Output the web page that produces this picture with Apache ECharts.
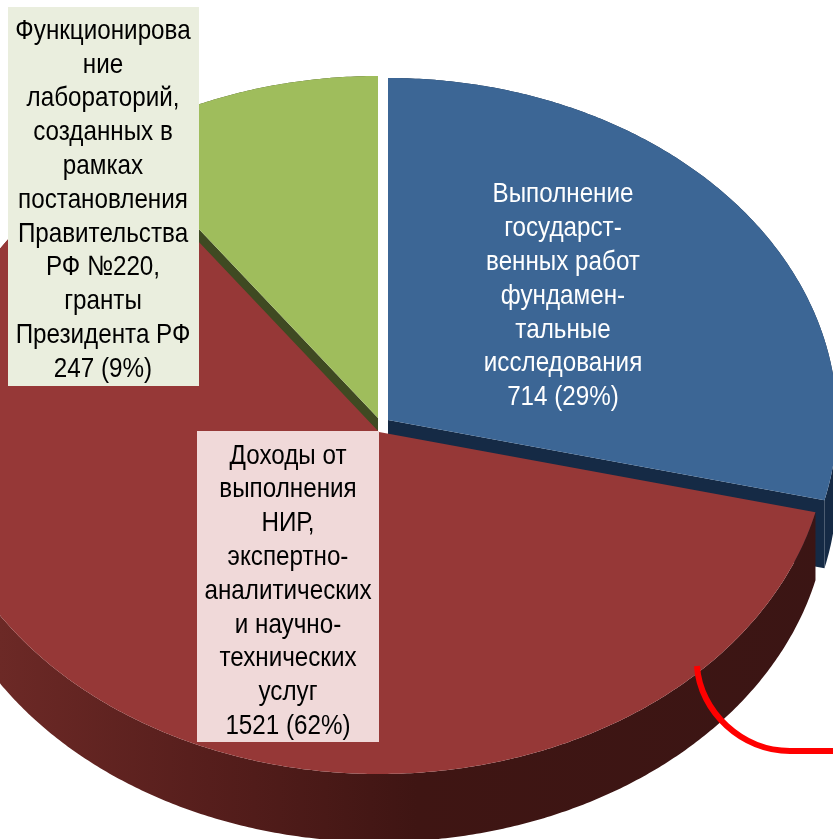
<!DOCTYPE html>
<html><head><meta charset="utf-8">
<style>html,body{margin:0;padding:0;background:#fff}#c{width:833px;height:839px}</style>
<script src="https://cdn.jsdelivr.net/npm/echarts@6/dist/echarts.min.js"></script>
</head><body><div id="c"></div>
<script>
const categories = ['Выполнение государственных работ', 'Доходы от выполнения НИР', 'Функционирование лабораторий'];
const values = [714, 1521, 247];
const labels = [
  'Выполнение\nгосударст-\nвенных работ\nфундамен-\nтальные\nисследования\n714 (29%)',
  'Доходы от\nвыполнения\nНИР,\nэкспертно-\nаналитических\nи научно-\nтехнических\nуслуг\n1521 (62%)',
  'Функционирова\nние\nлабораторий,\nсозданных в\nрамках\nпостановления\nПравительства\nРФ №220,\nгранты\nПрезидента РФ\n247 (9%)'
];
const RX = 449, RY = 342, DEPTH = 68;
const centers = [[388, 420], [379, 432], [378, 418]];
const drawOrder = [1, 3, 2];
const topColors = ['#3c6695', '#963837', '#9fbd5c'];
const wallColors = ['#152a45', null, '#3f4a22'];
const labelBoxes = [
  null,
  {x: 197, y: 431, w: 182, h: 311, bg: '#f0d9d9', cx: 288, cy: 591, color: '#000'},
  {x: 8, y: 7, w: 191, h: 379, bg: '#eaeede', cx: 103, cy: 200, color: '#000'}
];
const blueText = {cx: 563, cy: 296, color: '#fff'};
const total = values.reduce((a, b) => a + b, 0);
const pt = (c, deg, dy) => {
  const r = deg * Math.PI / 180;
  return [c[0] + RX * Math.sin(r), c[1] - RY * Math.cos(r) + (dy || 0)];
};
const arc = (c, a, b, dy) => {
  const out = [];
  const n = Math.ceil(Math.abs(b - a) * 2);
  for (let i = 0; i <= n; i++) out.push(pt(c, a + (b - a) * i / n, dy));
  return out;
};
const redWall = new echarts.graphic.LinearGradient(0, 0, 833, 0, [
  {offset: 0, color: '#6c2926'},
  {offset: 0.25, color: '#561e1c'},
  {offset: 0.5, color: '#3f1513'},
  {offset: 1, color: '#3b1514'}
], true);

function renderSlice(params, api) {
  const i = params.dataIndex;
  let acc = 0;
  for (let k = 0; k < i; k++) acc += values[k];
  const a = acc / total * 360, b = (acc + api.value(0)) / total * 360;
  const c = centers[i], z = drawOrder[i] * 10;
  const fill = wallColors[i] || redWall;
  const top = arc(c, a, b, 0), low = arc(c, a, b, DEPTH);
  const kids = [];
  const poly = (points, f, zz) => kids.push({type: 'polygon', z2: zz, shape: {points}, style: {fill: f}, silent: true});
  poly(top.concat(low.slice().reverse()), fill, z);
  const cLow = [c[0], c[1] + DEPTH];
  if (i === 0) poly([c, pt(c, b), pt(c, b, DEPTH), cLow], fill, z + 1);
  if (i === 2) poly([c, pt(c, a), pt(c, a, DEPTH), cLow], fill, z + 1);
  poly([c].concat(top), topColors[i], z + 2);
  return {type: 'group', children: kids};
}
function renderLabel(params) {
  const i = params.dataIndex, box = labelBoxes[i], kids = [];
  const t = box || blueText;
  if (box) kids.push({type: 'rect', z2: 100, shape: {x: box.x, y: box.y, width: box.w, height: box.h}, style: {fill: box.bg}, silent: true});
  kids.push({type: 'text', z2: 101, silent: true, x: t.cx, y: t.cy, scaleX: 0.865, style: {
    text: labels[i], fill: t.color, align: 'center', verticalAlign: 'middle',
    font: '28px "Liberation Sans", sans-serif', lineHeight: 33.8
  }});
  return {type: 'group', children: kids};
}
const chart = echarts.init(document.getElementById('c'), null, {renderer: 'canvas'});
chart.setOption({
  animation: false,
  backgroundColor: '#fff',
  series: [
    {type: 'custom', coordinateSystem: 'none', z: 2, silent: true, renderItem: renderSlice,
     data: values.map((v, i) => ({name: categories[i], value: [v]}))},
    {type: 'custom', coordinateSystem: 'none', z: 3, silent: true, renderItem: renderLabel,
     data: values.map((v, i) => ({name: categories[i], value: [v]}))}
  ],
  graphic: [
    {type: 'bezierCurve', z: 5, silent: true,
     shape: {x1: 697, y1: 666, cpx1: 700, cpy1: 712, cpx2: 742, cpy2: 751, x2: 790, y2: 751},
     style: {fill: 'none', stroke: '#ff0000', lineWidth: 6}},
    {type: 'line', z: 5, silent: true,
     shape: {x1: 789, y1: 751, x2: 833, y2: 751},
     style: {stroke: '#ff0000', lineWidth: 6}}
  ]
});
</script></body></html>
